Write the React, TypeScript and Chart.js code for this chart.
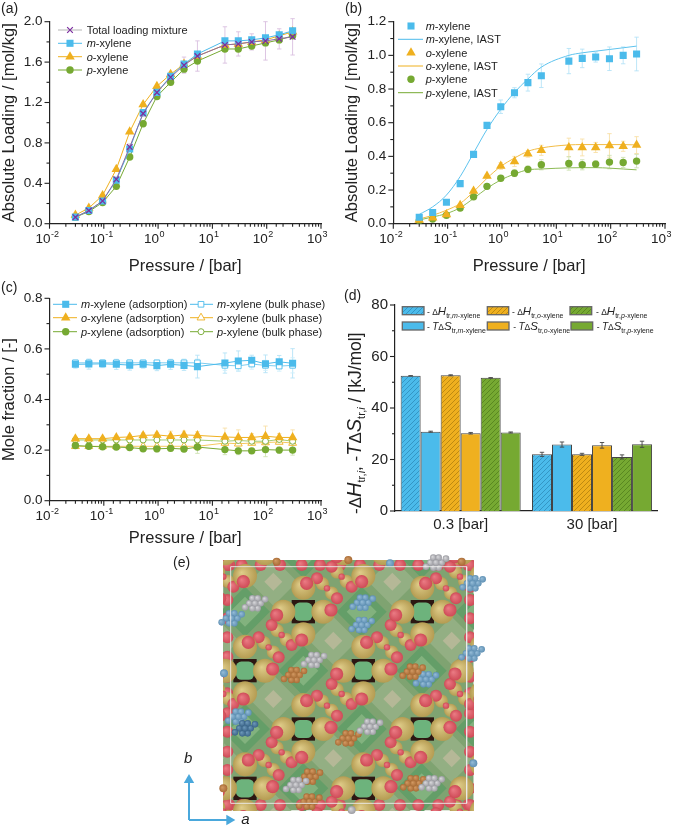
import React, { useEffect, useRef } from "react";
import { Chart, registerables } from "chart.js";
import { drawPoint } from "chart.js/helpers";

Chart.register(...registerables);

const FONT = '"Liberation Sans", Arial, sans-serif';
const INK = "#222222";
const BLUE = "#4BBBEB";
const ORANGE = "#EFB01F";
const GREEN = "#76A932";
const PURPLE = "#7B2D9F";

const pressure = [0.03, 0.053, 0.095, 0.17, 0.3, 0.53, 0.95, 1.7, 3, 5.3, 17, 30, 53, 95, 170, 300];
const xExponents = [-2, -1, 0, 1, 2, 3];

// (a)
const totalLoading = [0.065, 0.13, 0.225, 0.44, 0.76, 1.09, 1.3, 1.45, 1.57, 1.66, 1.77, 1.78, 1.8, 1.81, 1.83, 1.85];
const totalLoadingErr = [0.01, 0.01, 0.02, 0.02, 0.03, 0.03, 0.04, 0.05, 0.08, 0.15, 0.18, 0.12, 0.08, 0.19, 0.1, 0.18];
const mLoadingA = [0.065, 0.13, 0.225, 0.43, 0.74, 1.1, 1.3, 1.46, 1.58, 1.68, 1.81, 1.81, 1.82, 1.84, 1.87, 1.91];
const oLoadingA = [0.085, 0.155, 0.28, 0.54, 0.91, 1.18, 1.36, 1.48, 1.58, 1.66, 1.77, 1.78, 1.8, 1.82, 1.86, 1.9];
const pLoadingA = [0.065, 0.12, 0.21, 0.37, 0.66, 0.99, 1.26, 1.4, 1.53, 1.61, 1.73, 1.73, 1.76, 1.79, 1.82, 1.86];

// (b)
const mLoadingB = [0.038, 0.067, 0.127, 0.238, 0.412, 0.584, 0.695, 0.778, 0.838, 0.879, 0.966, 0.982, 0.99, 0.98, 1.0, 1.008];
const mLoadingBErr = [0.005, 0.005, 0.01, 0.01, 0.01, 0.01, 0.04, 0.03, 0.05, 0.07, 0.075, 0.055, 0.03, 0.07, 0.05, 0.1];
const mIast = [0.055, 0.1, 0.17, 0.28, 0.42, 0.56, 0.68, 0.78, 0.86, 0.93, 1.0, 1.015, 1.025, 1.035, 1.045, 1.055];
const oLoadingB = [0.022, 0.035, 0.055, 0.11, 0.195, 0.283, 0.343, 0.37, 0.415, 0.436, 0.453, 0.453, 0.453, 0.465, 0.46, 0.467];
const oLoadingBErr = [0.005, 0.005, 0.005, 0.01, 0.01, 0.01, 0.02, 0.03, 0.02, 0.03, 0.055, 0.05, 0.03, 0.07, 0.03, 0.05];
const oIast = [0.028, 0.05, 0.08, 0.12, 0.19, 0.27, 0.34, 0.39, 0.43, 0.45, 0.468, 0.47, 0.47, 0.47, 0.47, 0.468];
const pLoadingB = [0.018, 0.028, 0.05, 0.093, 0.16, 0.222, 0.27, 0.3, 0.323, 0.35, 0.358, 0.35, 0.354, 0.366, 0.364, 0.372];
const pLoadingBErr = [0.005, 0.005, 0.005, 0.01, 0.01, 0.01, 0.01, 0.02, 0.02, 0.03, 0.04, 0.03, 0.02, 0.04, 0.03, 0.04];
const pIast = [0.022, 0.04, 0.06, 0.095, 0.15, 0.21, 0.26, 0.295, 0.32, 0.325, 0.332, 0.333, 0.333, 0.33, 0.325, 0.32];

// (c)
const mAds = [0.539, 0.54, 0.541, 0.539, 0.536, 0.539, 0.534, 0.539, 0.535, 0.53, 0.544, 0.552, 0.555, 0.541, 0.549, 0.543];
const mAdsErr = [0.015, 0.02, 0.015, 0.02, 0.02, 0.015, 0.02, 0.02, 0.02, 0.045, 0.04, 0.04, 0.02, 0.035, 0.025, 0.058];
const mBulk = [0.545, 0.545, 0.545, 0.545, 0.545, 0.545, 0.545, 0.545, 0.545, 0.545, 0.535, 0.533, 0.54, 0.535, 0.532, 0.535];
const mBulkErr = [0.01, 0.01, 0.01, 0.01, 0.01, 0.01, 0.01, 0.01, 0.015, 0.015, 0.02, 0.02, 0.02, 0.02, 0.02, 0.03];
const oAds = [0.245, 0.245, 0.245, 0.25, 0.252, 0.258, 0.26, 0.255, 0.26, 0.258, 0.252, 0.25, 0.25, 0.255, 0.25, 0.25];
const oAdsErr = [0.006, 0.006, 0.006, 0.006, 0.008, 0.01, 0.01, 0.02, 0.015, 0.015, 0.035, 0.03, 0.015, 0.04, 0.015, 0.03];
const oBulk = [0.215, 0.215, 0.215, 0.215, 0.215, 0.215, 0.215, 0.215, 0.215, 0.215, 0.228, 0.225, 0.228, 0.23, 0.232, 0.228];
const pAds = [0.218, 0.215, 0.213, 0.212, 0.21, 0.205, 0.205, 0.207, 0.204, 0.212, 0.202, 0.197, 0.197, 0.202, 0.2, 0.2];
const pAdsErr = [0.006, 0.006, 0.006, 0.006, 0.006, 0.008, 0.012, 0.01, 0.01, 0.025, 0.02, 0.015, 0.01, 0.028, 0.012, 0.02];
const pBulk = [0.24, 0.24, 0.24, 0.24, 0.24, 0.24, 0.24, 0.24, 0.24, 0.24, 0.235, 0.238, 0.235, 0.235, 0.242, 0.235];

// (d)
const pressureGroups = ["0.3 [bar]", "30 [bar]"];
const dHm = [52.5, 22];
const dHmErr = [0.05, 0.8];
const tSm = [30.8, 25.8];
const tSmErr = [0.2, 1.0];
const dHo = [52.7, 22];
const dHoErr = [0.2, 0.4];
const tSo = [30.2, 25.5];
const tSoErr = [0.3, 1.1];
const dHp = [51.7, 21];
const dHpErr = [0.1, 0.8];
const tSp = [30.5, 25.9];
const tSpErr = [0.2, 1.2];

// (e) structure view, in the view's own units
const poreCentres = [[225, 10], [580, 10], [935, 10], [50, 185], [400, 185], [757, 185], [225, 362], [580, 362], [935, 362], [50, 537], [400, 537], [757, 537], [225, 715], [580, 715], [935, 715], [400, 890], [757, 890], [50, 890]];
const bigGold = [[-60, 0], [60, 0], [0, -72], [0, 68]];
const capRed = [[-80, 10], [83, -5], [10, -85], [-5, 85]];
const chainGold = [[57, -84], [85, -56], [-79, 56], [-51, 84]];
const chainEndRed = [[41, -100], [101, -40], [-95, 40], [-35, 100]];
const chainMidRed = [[71, -70], [-65, 70]];
const edgeRedH = [178, 215, 272, 330, 395, 450, 510, 570, 628, 690, 745, 805, 860, 895];
const edgeRedV = [45, 95, 150, 205, 262, 320, 380, 430, 490, 545, 605, 660, 715, 765];
const moleculeRing = [[17, 0], [8, 15], [-8, 15], [-17, 0], [-8, -15], [8, -15], [30, -12], [-30, 12], [0, 0]];
const greyMolecules = [[255, 160], [432, 330], [600, 530], [378, 705], [785, 700], [798, 38]];
const blueMolecules = [[185, 205], [578, 158], [575, 225], [205, 500], [768, 388], [908, 100], [905, 310]];
const navyMolecules = [[225, 535]];
const orangeMolecules = [[372, 375], [728, 365], [535, 565], [420, 680], [418, 755], [730, 700]];
const singleGrey = [[545, 780]];
const singleBlue = [[910, 640], [660, 40], [162, 370]];
const singleOrange = [[320, 35], [535, 30], [875, 35], [160, 715]];
const frameCorners = [[182, 50], [890, 50], [890, 760], [182, 760], [182, 50]];

type Seg = { t: string; i?: boolean; s: number; dy?: number };
const n = (t: string, s = 11): Seg => ({ t, s });
const it = (t: string, s = 11): Seg => ({ t, s, i: true });

function drawRich(ctx: CanvasRenderingContext2D, x: number, y: number, segs: Seg[]) {
  let cx = x;
  ctx.textAlign = "left";
  ctx.textBaseline = "alphabetic";
  for (const seg of segs) {
    ctx.font = `${seg.i ? "italic " : ""}${seg.s}px ${FONT}`;
    ctx.fillText(seg.t, cx, y + (seg.dy || 0));
    cx += ctx.measureText(seg.t).width;
  }
}

const xy = (ys: number[]) => pressure.map((x, i) => ({ x, y: ys[i] }));

type LegendItem = { x: number; y: number; textX: number; segs: Seg[]; line?: string; lineFrom?: number; lineTo?: number; mark?: any };

function panelPlugin(cfg: {
  rect: number[];
  label: string;
  labelPos: number[];
  logX?: boolean;
  errorsOnTop?: boolean;
  legend?: LegendItem[];
  swatches?: { x: number; y: number; w: number; h: number; fill: any }[];
  richTitle?: { x: number; y: number; segs: Seg[] };
}) {
  const [ox, oy] = cfg.rect;
  const drawErrors = (chart: any) => {
    const ctx = chart.ctx;
    const yScale = chart.scales.y;
    ctx.save();
    chart.data.datasets.forEach((ds: any, di: number) => {
      if (!ds.errors) return;
      const meta = chart.getDatasetMeta(di);
      ctx.strokeStyle = ds.errorColor;
      ctx.lineWidth = 0.9;
      ds.errors.forEach((e: number, i: number) => {
        const el = meta.data[i];
        const v = typeof ds.data[i] === "number" ? ds.data[i] : ds.data[i].y;
        const t = yScale.getPixelForValue(v + e);
        const b = yScale.getPixelForValue(v - e);
        ctx.beginPath();
        ctx.moveTo(el.x, t);
        ctx.lineTo(el.x, b);
        ctx.moveTo(el.x - 2.2, t);
        ctx.lineTo(el.x + 2.2, t);
        ctx.moveTo(el.x - 2.2, b);
        ctx.lineTo(el.x + 2.2, b);
        ctx.stroke();
      });
    });
    ctx.restore();
  };
  return {
    id: "panel" + cfg.label.replace(/\W/g, ""),
    beforeDatasetsDraw(chart: any) {
      if (!cfg.errorsOnTop) drawErrors(chart);
    },
    afterDatasetsDraw(chart: any) {
      if (cfg.errorsOnTop) drawErrors(chart);
    },
    afterDraw(chart: any) {
      const ctx: CanvasRenderingContext2D = chart.ctx;
      const { x: xs, y: ys } = chart.scales;
      const bottom = chart.chartArea.bottom;
      const left = chart.chartArea.left;
      ctx.save();
      ctx.strokeStyle = INK;
      ctx.fillStyle = INK;
      ctx.lineWidth = 1.1;
      ys.ticks.forEach((t: any) => {
        const p = ys.getPixelForValue(t.value);
        const len = t.label !== "" ? 5 : 3;
        ctx.beginPath();
        ctx.moveTo(left, p);
        ctx.lineTo(left - len, p);
        ctx.stroke();
      });
      if (cfg.logX) {
        xs.ticks.forEach((t: any) => {
          const lg = Math.log10(t.value);
          const major = Math.abs(lg - Math.round(lg)) < 1e-6;
          const p = xs.getPixelForValue(t.value);
          ctx.beginPath();
          ctx.moveTo(p, bottom);
          ctx.lineTo(p, bottom + (major ? 5 : 3));
          ctx.stroke();
        });
        xExponents.forEach((ex) => {
          const p = xs.getPixelForValue(Math.pow(10, ex));
          ctx.font = `13.5px ${FONT}`;
          ctx.textAlign = "right";
          ctx.textBaseline = "alphabetic";
          ctx.fillText("10", p + 1, bottom + 19);
          ctx.font = `9px ${FONT}`;
          ctx.textAlign = "left";
          ctx.fillText(String(ex), p + 1.5, bottom + 13.5);
        });
      }
      ctx.fillStyle = INK;
      ctx.font = `14px ${FONT}`;
      ctx.textAlign = "left";
      ctx.textBaseline = "alphabetic";
      ctx.fillText(cfg.label, cfg.labelPos[0] - ox, cfg.labelPos[1] - oy);

      (cfg.swatches || []).forEach((s) => {
        ctx.fillStyle = s.fill;
        ctx.fillRect(s.x - ox, s.y - oy, s.w, s.h);
        ctx.strokeStyle = "#666666";
        ctx.lineWidth = 1.3;
        ctx.strokeRect(s.x - ox, s.y - oy, s.w, s.h);
      });
      (cfg.legend || []).forEach((l) => {
        if (l.line) {
          ctx.strokeStyle = l.line;
          ctx.lineWidth = 1;
          ctx.beginPath();
          ctx.moveTo((l.lineFrom as number) - ox, l.y - oy);
          ctx.lineTo((l.lineTo as number) - ox, l.y - oy);
          ctx.stroke();
        }
        if (l.mark) {
          ctx.fillStyle = l.mark.fill;
          ctx.strokeStyle = l.mark.stroke;
          ctx.lineWidth = l.mark.borderWidth;
          drawPoint(ctx, { pointStyle: l.mark.style, rotation: 0, radius: l.mark.radius, borderWidth: l.mark.borderWidth }, l.x - ox, l.y - oy);
        }
        ctx.fillStyle = INK;
        drawRich(ctx, l.textX - ox, l.y - oy + 4, l.segs);
      });
      if (cfg.richTitle) {
        ctx.save();
        ctx.translate(cfg.richTitle.x - ox, cfg.richTitle.y - oy);
        ctx.rotate(-Math.PI / 2);
        ctx.fillStyle = INK;
        drawRich(ctx, 0, 0, cfg.richTitle.segs);
        ctx.restore();
      }
      ctx.restore();
    },
  };
}

function axes(rect: number[], area: number[], yMax: number, step: number, labelEvery: number, yTitle: string | null, digits: number, logX: boolean, tickSize: number, tickPad: number, yTitlePad: number) {
  const [ox, oy, w, h] = rect;
  const [l, t, r, b] = area;
  const common = {
    grid: { display: false, drawTicks: false },
    border: { display: true, color: INK, width: 1.2 },
  };
  const x: any = logX
    ? {
        ...common,
        type: "logarithmic",
        min: 0.01,
        max: 1000,
        ticks: { display: false, autoSkip: false },
        title: { display: true, text: "Pressure / [bar]", font: { family: FONT, size: 16.5 }, color: INK, padding: { top: 0, bottom: 1.5 } },
        afterFit: (s: any) => { s.height = oy + h - b; },
      }
    : {
        ...common,
        type: "category",
        ticks: { font: { family: FONT, size: 15 }, color: INK, padding: 5 },
        afterFit: (s: any) => { s.height = oy + h - b; },
      };
  const y: any = {
    ...common,
    type: "linear",
    min: 0,
    max: yMax,
    ticks: {
      stepSize: step,
      autoSkip: false,
      padding: tickPad,
      font: { family: FONT, size: tickSize },
      color: INK,
      callback: (v: number) => (Math.round(v / step) % labelEvery === 0 ? v.toFixed(digits) : ""),
    },
    title: yTitle ? { display: true, text: yTitle, font: { family: FONT, size: 16.5 }, color: INK, padding: { top: yTitlePad, bottom: 0 } } : { display: false },
    afterFit: (s: any) => { s.width = l - ox; },
  };
  return {
    responsive: false,
    maintainAspectRatio: false,
    animation: false,
    layout: { autoPadding: false, padding: { top: t - oy, right: ox + w - r, left: 0, bottom: 0 } },
    plugins: { legend: { display: false }, tooltip: { enabled: false } },
    scales: { x, y },
  };
}

const series = (label: string, data: number[], color: string, style: string, radius: number, extra: any = {}) => ({
  label,
  data: xy(data),
  showLine: true,
  borderColor: color,
  backgroundColor: color,
  borderWidth: 1,
  pointStyle: style,
  pointRadius: radius,
  pointBackgroundColor: color,
  pointBorderColor: color,
  pointBorderWidth: 0,
  ...extra,
});

const m = (fill: string, stroke: string, style: string, radius: number, borderWidth = 0) => ({ fill, stroke, style, radius, borderWidth });
const iso = (c: string, rest: string): Seg[] => [it(c), n("-xylene" + rest)];

function hatch(color: string, line: string) {
  const c = document.createElement("canvas");
  c.width = 5;
  c.height = 5;
  const g = c.getContext("2d") as CanvasRenderingContext2D;
  g.fillStyle = color;
  g.fillRect(0, 0, 5, 5);
  g.strokeStyle = line;
  g.lineWidth = 0.7;
  g.beginPath();
  g.moveTo(-1, 6);
  g.lineTo(6, -1);
  g.moveTo(-1, 1);
  g.lineTo(1, -1);
  g.moveTo(4, 6);
  g.lineTo(6, 4);
  g.stroke();
  return g.createPattern(c, "repeat");
}

function buildA(canvas: HTMLCanvasElement) {
  const rect = [0, 0, 337, 278];
  const area = [49.5, 21.7, 321, 223.7];
  const rows = [30, 43.3, 56.7, 70];
  const legend: LegendItem[] = [
    { x: 70, y: rows[0], textX: 86.7, segs: [n("Total loading mixture")], line: "#b5b5b5", lineFrom: 58, lineTo: 82, mark: m(PURPLE, PURPLE, "crossRot", 4, 1.2) },
    { x: 70, y: rows[1], textX: 86.7, segs: iso("m", ""), line: BLUE, lineFrom: 58, lineTo: 82, mark: m(BLUE, BLUE, "rect", 5) },
    { x: 70, y: rows[2], textX: 86.7, segs: iso("o", ""), line: ORANGE, lineFrom: 58, lineTo: 82, mark: m(ORANGE, ORANGE, "triangle", 5.5) },
    { x: 70, y: rows[3], textX: 86.7, segs: iso("p", ""), line: GREEN, lineFrom: 58, lineTo: 82, mark: m(GREEN, GREEN, "circle", 3.7) },
  ];
  return new Chart(canvas, {
    type: "scatter",
    data: {
      datasets: [
        series("Total loading mixture", totalLoading, "#8d6aa0", "crossRot", 4, { pointBorderColor: PURPLE, pointBorderWidth: 1.2, errors: totalLoadingErr, errorColor: "#d9bfe0" }),
        series("m-xylene", mLoadingA, BLUE, "rect", 5),
        series("o-xylene", oLoadingA, ORANGE, "triangle", 5.5),
        series("p-xylene", pLoadingA, GREEN, "circle", 3.7),
      ] as any,
    },
    options: axes(rect, area, 2, 0.2, 2, "Absolute Loading / [mol/kg]", 1, true, 13.5, 7, 0) as any,
    plugins: [panelPlugin({ rect, label: "(a)", labelPos: [1, 13], logX: true, legend })] as any,
  });
}

function buildB(canvas: HTMLCanvasElement) {
  const rect = [337, 0, 338, 278];
  const area = [393.3, 21.7, 665, 223.7];
  const rows = [26, 39.3, 52.7, 66, 79.3, 92.7];
  const tx = 425.7;
  const legend: LegendItem[] = [
    { x: 411, y: rows[0], textX: tx, segs: iso("m", ""), mark: m(BLUE, BLUE, "rect", 5) },
    { x: 411, y: rows[1], textX: tx, segs: iso("m", ", IAST"), line: BLUE, lineFrom: 398, lineTo: 423 },
    { x: 411, y: rows[2], textX: tx, segs: iso("o", ""), mark: m(ORANGE, ORANGE, "triangle", 5.5) },
    { x: 411, y: rows[3], textX: tx, segs: iso("o", ", IAST"), line: ORANGE, lineFrom: 398, lineTo: 423 },
    { x: 411, y: rows[4], textX: tx, segs: iso("p", ""), mark: m(GREEN, GREEN, "circle", 3.7) },
    { x: 411, y: rows[5], textX: tx, segs: iso("p", ", IAST"), line: GREEN, lineFrom: 398, lineTo: 423 },
  ];
  const pts = { showLine: false };
  const curve = { pointRadius: 0, cubicInterpolationMode: "monotone" };
  return new Chart(canvas, {
    type: "scatter",
    data: {
      datasets: [
        series("m-xylene", mLoadingB, BLUE, "rect", 5, { ...pts, errors: mLoadingBErr, errorColor: "#b5e3f7" }),
        series("m-xylene, IAST", mIast, "#5EC3EE", "circle", 0, curve),
        series("o-xylene", oLoadingB, ORANGE, "triangle", 5.5, { ...pts, errors: oLoadingBErr, errorColor: "#f8e0a6" }),
        series("o-xylene, IAST", oIast, "#F2BC45", "circle", 0, curve),
        series("p-xylene", pLoadingB, GREEN, "circle", 3.7, { ...pts, errors: pLoadingBErr, errorColor: "#cfe2b3" }),
        series("p-xylene, IAST", pIast, "#8DBB55", "circle", 0, curve),
      ] as any,
    },
    options: axes(rect, area, 1.2, 0.1, 2, "Absolute Loading / [mol/kg]", 1, true, 13.5, 7, 6) as any,
    plugins: [panelPlugin({ rect, label: "(b)", labelPos: [345, 13], logX: true, legend })] as any,
  });
}

function buildC(canvas: HTMLCanvasElement) {
  const rect = [0, 278, 337, 272];
  const area = [49.5, 298.3, 321, 500.7];
  const rows = [304.3, 317.7, 331.7];
  const L = { x: 65.7, textX: 81, lineFrom: 53, lineTo: 77 };
  const R = { x: 201, textX: 217, lineFrom: 190, lineTo: 213 };
  const legend: LegendItem[] = [
    { ...L, y: rows[0], segs: iso("m", " (adsorption)"), line: BLUE, mark: m(BLUE, BLUE, "rect", 5) },
    { ...L, y: rows[1], segs: iso("o", " (adsorption)"), line: ORANGE, mark: m(ORANGE, ORANGE, "triangle", 5.5) },
    { ...L, y: rows[2], segs: iso("p", " (adsorption)"), line: GREEN, mark: m(GREEN, GREEN, "circle", 3.7) },
    { ...R, y: rows[0], segs: iso("m", " (bulk phase)"), line: BLUE, mark: m("#ffffff", BLUE, "rect", 4, 0.9) },
    { ...R, y: rows[1], segs: iso("o", " (bulk phase)"), line: ORANGE, mark: m("#ffffff", ORANGE, "triangle", 4.5, 0.9) },
    { ...R, y: rows[2], segs: iso("p", " (bulk phase)"), line: GREEN, mark: m("#ffffff", GREEN, "circle", 3, 0.9) },
  ];
  const open = (color: string) => ({ pointBackgroundColor: "#ffffff", pointBorderColor: color, pointBorderWidth: 0.9 });
  return new Chart(canvas, {
    type: "scatter",
    data: {
      datasets: [
        series("m-xylene (adsorption)", mAds, BLUE, "rect", 5, { errors: mAdsErr, errorColor: "#b5e3f7" }),
        series("m-xylene (bulk phase)", mBulk, "#7CCDF0", "rect", 4, { ...open(BLUE), errors: mBulkErr, errorColor: "#cdeefb" }),
        series("o-xylene (adsorption)", oAds, ORANGE, "triangle", 5.5, { errors: oAdsErr, errorColor: "#f8e0a6" }),
        series("p-xylene (adsorption)", pAds, GREEN, "circle", 3.7, { errors: pAdsErr, errorColor: "#cfe2b3" }),
        series("p-xylene (bulk phase)", pBulk, "#A4CB73", "circle", 3, { ...open(GREEN) }),
        series("o-xylene (bulk phase)", oBulk, "#F5C85F", "triangle", 4.5, { ...open(ORANGE) }),
      ] as any,
    },
    options: axes(rect, area, 0.8, 0.1, 2, "Mole fraction / [-]", 1, true, 13.5, 7, 0) as any,
    plugins: [panelPlugin({ rect, label: "(c)", labelPos: [1, 292], logX: true, legend })] as any,
  });
}

function buildD(canvas: HTMLCanvasElement) {
  const rect = [337, 278, 338, 272];
  const area = [395, 305, 657.7, 511];
  const hb = hatch(BLUE, "#2B86B5");
  const ho = hatch(ORANGE, "#A97A0C");
  const hg = hatch(GREEN, "#4E7A1A");
  const bar = (label: string, data: number[], fill: any, errors: number[]) => ({
    label, data, backgroundColor: fill, borderColor: "#444444", borderWidth: 1, errors, errorColor: "#444444",
    barPercentage: 1, categoryPercentage: 0.914,
  });
  const sub = (c: string): Seg[] => [
    { t: "tr,", s: 7, dy: 3 }, { t: c, s: 7, dy: 3, i: true }, { t: "-xylene", s: 7, dy: 3 },
  ];
  const dh = (c: string) => [n("- \u0394", 8.5), it("H", 11.5), ...sub(c)];
  const ts = (c: string) => [n("- ", 8.5), it("T", 10), n("\u0394", 8.5), it("S", 11.5), ...sub(c)];
  const legend: LegendItem[] = [
    { x: 0, y: 310.7, textX: 427, segs: dh("m") },
    { x: 0, y: 310.7, textX: 512, segs: dh("o") },
    { x: 0, y: 310.7, textX: 596, segs: dh("p") },
    { x: 0, y: 326, textX: 427, segs: ts("m") },
    { x: 0, y: 326, textX: 513.3, segs: ts("o") },
    { x: 0, y: 326, textX: 596.7, segs: ts("p") },
  ];
  const swatches = [
    { x: 402.3, y: 306.7, w: 21.7, h: 8, fill: hb },
    { x: 487.3, y: 306.7, w: 21.4, h: 8, fill: ho },
    { x: 570, y: 306.7, w: 21.7, h: 8, fill: hg },
    { x: 402.3, y: 322, w: 21.7, h: 8, fill: BLUE },
    { x: 487.3, y: 322, w: 21.7, h: 8, fill: ORANGE },
    { x: 571, y: 322, w: 21.7, h: 8, fill: GREEN },
  ];
  const richTitle = {
    x: 361,
    y: 514,
    segs: [
      n("-\u0394", 17), it("H", 20), { t: "tr,", s: 11, dy: 4 }, { t: "i", s: 11, dy: 4, i: true }, n(",", 17), n(" -", 17),
      it("T", 20), n("\u0394", 17), it("S", 20), { t: "tr,", s: 11, dy: 4 }, { t: "i", s: 11, dy: 4, i: true }, n(" / [kJ/mol]", 17.5),
    ],
  };
  return new Chart(canvas, {
    type: "bar",
    data: {
      labels: pressureGroups,
      datasets: [
        bar("-dH m-xylene", dHm, hb, dHmErr),
        bar("-TdS m-xylene", tSm, BLUE, tSmErr),
        bar("-dH o-xylene", dHo, ho, dHoErr),
        bar("-TdS o-xylene", tSo, ORANGE, tSoErr),
        bar("-dH p-xylene", dHp, hg, dHpErr),
        bar("-TdS p-xylene", tSp, GREEN, tSpErr),
      ] as any,
    },
    options: axes(rect, area, 80, 10, 2, null, 0, false, 15, 7, 0) as any,
    plugins: [panelPlugin({ rect, label: "(d)", labelPos: [344, 300], errorsOnTop: true, legend, swatches, richTitle })] as any,
  });
}

function buildE(canvas: HTMLCanvasElement) {
  const inBox = (p: number[]) => p[0] >= 130 && p[0] <= 945 && p[1] >= 0 && p[1] <= 815;
  const inner = (p: number[]) => p[0] >= 155 && p[0] <= 925 && p[1] >= 15 && p[1] <= 800;
  const around = (centres: number[][], offsets: number[][], r: number, keep = inBox) =>
    centres.flatMap((c) => offsets.map((o) => [c[0] + o[0], c[1] + o[1]])).filter(keep).map((p) => ({ x: p[0], y: p[1], r }));
  const at = (pts: number[][], r: number, keep = inBox) => pts.filter(keep).map((p) => ({ x: p[0], y: p[1], r }));
  const edge = [
    ...edgeRedH.map((x) => [x, 45]),
    ...edgeRedH.map((x) => [x, 765]),
    ...edgeRedV.map((y) => [172, y]),
    ...edgeRedV.map((y) => [900, y]),
  ];
  const ball = (light: string, dark: string) => (c: any) => {
    if (!c.raw) return dark;
    const px = c.chart.scales.x.getPixelForValue(c.raw.x);
    const py = c.chart.scales.y.getPixelForValue(c.raw.y);
    if (!Number.isFinite(px) || !Number.isFinite(py)) return dark;
    const g = c.chart.ctx.createRadialGradient(px - c.raw.r * 0.3, py - c.raw.r * 0.3, 0, px, py, c.raw.r);
    g.addColorStop(0, light);
    g.addColorStop(1, dark);
    return g;
  };
  const boxClip = { left: -53, top: -10, right: -36, bottom: -16 };
  const bubble = (data: any[], fill: any, style = "circle", clip: any = false) => ({ data, backgroundColor: fill, borderWidth: 0, pointStyle: style, clip });
  const gold = ball("#E0CD8A", "#B59C52");
  const red = ball("#EB7C85", "#CE4A56");
  const grey = ball("#DADADD", "#9C9CA2");
  const blue = ball("#96BDD8", "#5F90B4");
  const navy = ball("#6F9ABB", "#3A6488");
  const orange = ball("#D39A63", "#A96C36");
  const pores = poreCentres.filter(inner);
  const tiles = poreCentres.map((c) => [c[0] - 90, c[1] - 90]);
  const cages = poreCentres.map((c) => [c[0] + 175, c[1]]);
  const edgeLine = (pts: number[][], rot: number) => ({
    type: "scatter",
    data: pts.map((p) => ({ x: p[0], y: p[1] })),
    showLine: true,
    borderColor: "#4AA8DC",
    borderWidth: 2,
    pointStyle: "triangle",
    pointRadius: [0, 6],
    pointRotation: rot,
    pointBackgroundColor: "#4AA8DC",
    pointBorderWidth: 0,
    clip: false,
  });
  const plugin = {
    id: "panelE",
    afterDraw(chart: any) {
      const ctx = chart.ctx;
      const { x, y } = chart.scales;
      ctx.save();
      ctx.fillStyle = INK;
      ctx.textBaseline = "alphabetic";
      ctx.textAlign = "left";
      ctx.font = `14px ${FONT}`;
      ctx.fillText("(e)", 3, 17);
      ctx.font = `italic 15px ${FONT}`;
      ctx.fillText("b", x.getPixelForValue(42), y.getPixelForValue(638));
      ctx.fillText("a", x.getPixelForValue(214), y.getPixelForValue(822));
      ctx.restore();
    },
  };
  return new Chart(canvas, {
    type: "bubble",
    data: {
      datasets: [
        { type: "scatter", data: frameCorners.map((p) => ({ x: p[0], y: p[1] })), showLine: true, borderColor: "rgba(235,235,235,0.9)", borderWidth: 1, pointRadius: 0, clip: false },
        edgeLine([[57, 810], [57, 690]], 0),
        edgeLine([[57, 810], [178, 810]], 90),
        bubble(at(singleGrey, 4), grey),
        bubble(around(greyMolecules, moleculeRing, 3.3), grey),
        bubble(around(orangeMolecules, moleculeRing, 3.3), orange),
        bubble(around(navyMolecules, moleculeRing, 3.3), navy),
        bubble(around(blueMolecules, moleculeRing, 3.3), blue),
        bubble(at(singleBlue, 4), blue),
        bubble(at(singleOrange, 4), orange),
        bubble(around(poreCentres, capRed, 6.6), red, "circle", boxClip),
        bubble(around(poreCentres, bigGold, 12), gold, "circle", boxClip),
        bubble(around(poreCentres, chainMidRed, 3.2), red, "circle", boxClip),
        bubble(around(poreCentres, chainEndRed, 6), red, "circle", boxClip),
        bubble(around(poreCentres, chainGold, 6.6), gold, "circle", boxClip),
        bubble(at(edge, 6), red, "circle", boxClip),
        bubble(at(pores, 10.6), "#6DB37C", "rectRounded", boxClip),
        bubble(at(pores, 16.5), "#2C1712", "rect", boxClip),
        bubble(at(cages, 15), "#82B27E", "rectRot", boxClip),
        bubble(at(cages, 25), "#649E68", "rectRot", boxClip),
        bubble(at(tiles, 9), "#B5B897", "rectRot", boxClip),
        bubble(at(tiles, 24), "#93AF83", "rectRot", boxClip),
        bubble([{ x: 535, y: 405, r: 177 }], "#7FA371", "rect", boxClip),
      ] as any,
    },
    options: {
      responsive: false,
      maintainAspectRatio: false,
      animation: false,
      layout: { autoPadding: false, padding: 0 },
      plugins: { legend: { display: false }, tooltip: { enabled: false } },
      scales: {
        x: { type: "linear", min: 0, max: 1020, display: false },
        y: { type: "linear", min: 0, max: 831, reverse: true, display: false },
      },
    } as any,
    plugins: [plugin] as any,
  });
}

const panels: { rect: number[]; build: (c: HTMLCanvasElement) => Chart; blur?: boolean }[] = [
  { rect: [0, 0, 337, 278], build: buildA },
  { rect: [337, 0, 338, 278], build: buildB },
  { rect: [0, 278, 337, 272], build: buildC },
  { rect: [337, 278, 338, 272], build: buildD },
  { rect: [170, 550, 340, 277], build: buildE, blur: true },
];

function Panel({ rect, build, blur }: { rect: number[]; build: (c: HTMLCanvasElement) => Chart; blur?: boolean }) {
  const ref = useRef<HTMLCanvasElement>(null);
  useEffect(() => {
    const chart = build(ref.current as HTMLCanvasElement);
    return () => chart.destroy();
  }, [build]);
  return (
    <canvas
      ref={ref}
      width={rect[2]}
      height={rect[3]}
      style={{ position: "absolute", left: rect[0], top: rect[1], width: rect[2], height: rect[3], filter: blur ? "blur(0.45px)" : undefined }}
    />
  );
}

export default function App() {
  return (
    <div style={{ position: "absolute", left: 0, top: 0, width: 675, height: 827, overflow: "hidden", background: "#ffffff" }}>
      {panels.map((p, i) => (
        <Panel key={i} {...p} />
      ))}
    </div>
  );
}
